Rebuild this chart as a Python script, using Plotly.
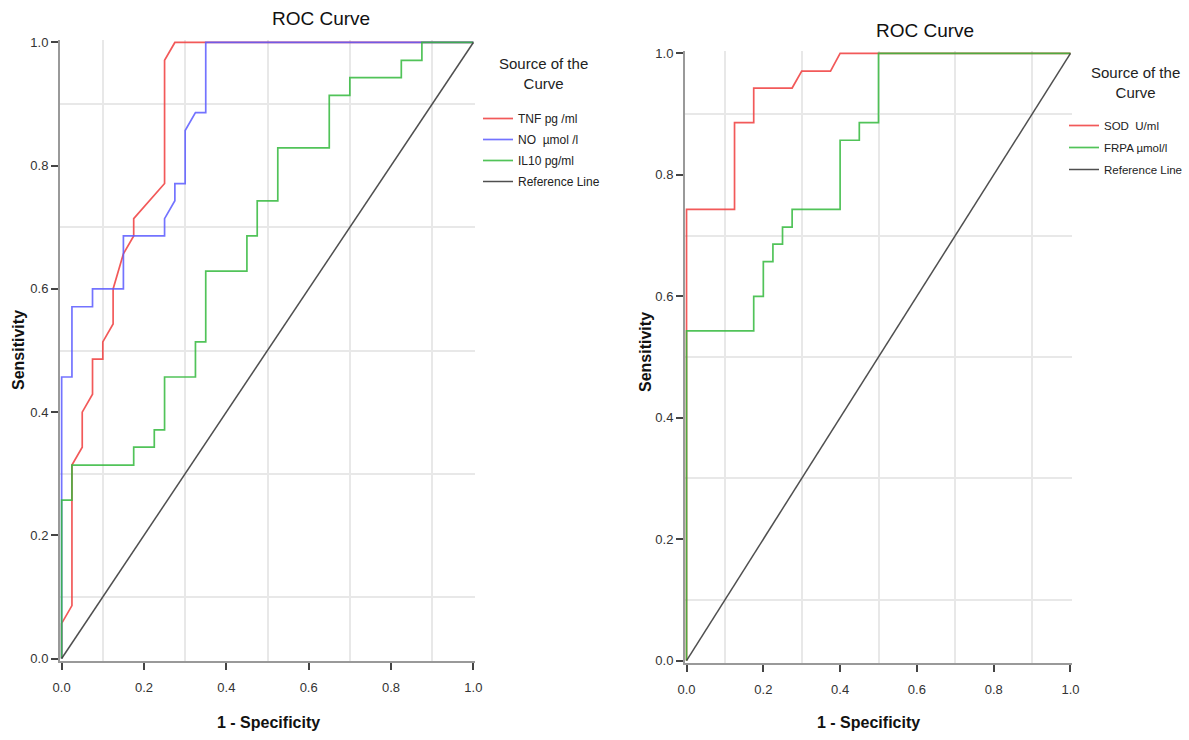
import plotly.graph_objects as go

# ---------------- Left chart data ----------------
tnf_fpr = [0, 0, 0.025, 0.025, 0.05, 0.05, 0.075, 0.075, 0.1, 0.1, 0.125, 0.125, 0.15, 0.175, 0.175, 0.25, 0.25, 0.275, 1.0]
tnf_tpr = [0, 0.057, 0.086, 0.314, 0.343, 0.4, 0.429, 0.486, 0.486, 0.514, 0.543, 0.6, 0.657, 0.686, 0.714, 0.771, 0.971, 1.0, 1.0]

no_fpr = [0, 0, 0.025, 0.025, 0.075, 0.075, 0.15, 0.15, 0.25, 0.25, 0.275, 0.275, 0.3, 0.3, 0.325, 0.35, 0.35, 1.0]
no_tpr = [0, 0.457, 0.457, 0.571, 0.571, 0.6, 0.6, 0.686, 0.686, 0.714, 0.743, 0.771, 0.771, 0.857, 0.886, 0.886, 1.0, 1.0]

il10_fpr = [0, 0, 0.025, 0.025, 0.175, 0.175, 0.225, 0.225, 0.25, 0.25, 0.325, 0.325, 0.35, 0.35,
            0.45, 0.45, 0.475, 0.475, 0.525, 0.525, 0.65, 0.65, 0.70, 0.70, 0.825, 0.825, 0.875, 0.875, 1.0]
il10_tpr = [0, 0.257, 0.257, 0.314, 0.314, 0.343, 0.343, 0.371, 0.371, 0.457, 0.457, 0.514, 0.514, 0.629,
            0.629, 0.686, 0.686, 0.743, 0.743, 0.829, 0.829, 0.914, 0.914, 0.943, 0.943, 0.971, 0.971, 1.0, 1.0]

# ---------------- Right chart data ----------------
sod_fpr = [0, 0, 0.125, 0.125, 0.175, 0.175, 0.275, 0.3, 0.375, 0.4, 1.0]
sod_tpr = [0, 0.743, 0.743, 0.886, 0.886, 0.943, 0.943, 0.971, 0.971, 1.0, 1.0]

frpa_fpr = [0, 0, 0.175, 0.175, 0.2, 0.2, 0.225, 0.225, 0.25, 0.25, 0.275, 0.275, 0.4, 0.4, 0.45, 0.45, 0.5, 0.5, 1.0]
frpa_tpr = [0, 0.543, 0.543, 0.6, 0.6, 0.657, 0.657, 0.686, 0.686, 0.714, 0.714, 0.743, 0.743, 0.857, 0.857, 0.886, 0.886, 1.0, 1.0]

ref_x = [0, 1]
ref_y = [0, 1]

tick_vals = [0, 0.2, 0.4, 0.6, 0.8, 1.0]
tick_text = ["0.0", "0.2", "0.4", "0.6", "0.8", "1.0"]
grid_vals = [0.1, 0.3, 0.5, 0.7, 0.9]

W, H = 1189, 740
NARROW = "Liberation Sans Narrow, Arial Narrow, Liberation Sans, Arial, sans-serif"
BOLD = "Liberation Sans, Arial, sans-serif"

RED = "rgba(240,60,60,0.85)"
BLUE = "rgba(90,90,255,0.85)"
GREEN = "rgba(50,185,60,0.85)"
GREY = "rgba(60,60,60,0.9)"


def fx(px):
    return px / W


def fy(py):
    return 1 - py / H


fig = go.Figure()

lw = 1.7
fig.add_trace(go.Scatter(x=tnf_fpr, y=tnf_tpr, mode="lines", name="TNF pg /ml", legendgroup="a",
                         line=dict(color=RED, width=lw), xaxis="x", yaxis="y", legend="legend"))
fig.add_trace(go.Scatter(x=no_fpr, y=no_tpr, mode="lines", name="NO  µmol /l", legendgroup="b",
                         line=dict(color=BLUE, width=lw), xaxis="x", yaxis="y", legend="legend"))
fig.add_trace(go.Scatter(x=il10_fpr, y=il10_tpr, mode="lines", name="IL10 pg/ml", legendgroup="c",
                         line=dict(color=GREEN, width=lw), xaxis="x", yaxis="y", legend="legend"))
fig.add_trace(go.Scatter(x=ref_x, y=ref_y, mode="lines", name="Reference Line", legendgroup="d",
                         line=dict(color=GREY, width=1.5), xaxis="x", yaxis="y", legend="legend"))

fig.add_trace(go.Scatter(x=sod_fpr, y=sod_tpr, mode="lines", name="SOD  U/ml", legendgroup="e",
                         line=dict(color=RED, width=lw), xaxis="x2", yaxis="y2", legend="legend2"))
fig.add_trace(go.Scatter(x=frpa_fpr, y=frpa_tpr, mode="lines", name="FRPA µmol/l", legendgroup="f",
                         line=dict(color=GREEN, width=lw), xaxis="x2", yaxis="y2", legend="legend2"))
fig.add_trace(go.Scatter(x=ref_x, y=ref_y, mode="lines", name="Reference Line", legendgroup="g",
                         line=dict(color=GREY, width=1.5), xaxis="x2", yaxis="y2", legend="legend2"))


def axis(domain, anchor, standoff):
    return dict(
        domain=domain, anchor=anchor, range=[-0.004, 1.004],
        tickmode="array", tickvals=tick_vals, ticktext=tick_text,
        ticks="outside", ticklen=7, tickwidth=1.5, tickcolor="#444",
        ticklabelstandoff=standoff,
        showline=True, linecolor="#999", linewidth=2,
        showgrid=False, zeroline=False, automargin=False,
        tickfont=dict(family=NARROW, size=13, color="#333"),
        minor=dict(tickmode="array", tickvals=grid_vals, showgrid=True,
                   gridcolor="#e8e8e8", gridwidth=1.5, ticks=""),
        fixedrange=True,
    )


fig.update_layout(
    width=W, height=H,
    margin=dict(l=0, r=0, t=0, b=0, autoexpand=False),
    paper_bgcolor="white", plot_bgcolor="white",
    xaxis=axis([fx(60), fx(475)], "y", 6),
    yaxis=axis([fy(661), fy(40)], "x", 0),
    xaxis2=axis([fx(685), fx(1072)], "y2", 6),
    yaxis2=axis([fy(663), fy(51)], "x2", 0),
    legend=dict(
        x=fx(478), y=fy(104), xanchor="left", yanchor="top",
        bgcolor="rgba(0,0,0,0)",
        font=dict(family=NARROW, size=12, color="#222"),
        itemwidth=30, tracegroupgap=2, traceorder="grouped",
    ),
    legend2=dict(
        x=fx(1064), y=fy(111), xanchor="left", yanchor="top",
        bgcolor="rgba(0,0,0,0)",
        font=dict(family=NARROW, size=11.5, color="#222"),
        itemwidth=30, tracegroupgap=3, traceorder="grouped",
    ),
    showlegend=True,
)

annos = [
    dict(text="ROC Curve", x=fx(321), y=fy(19), font=dict(family=NARROW, size=19, color="#111")),
    dict(text="ROC Curve", x=fx(925), y=fy(30), font=dict(family=NARROW, size=19, color="#111")),
    dict(text="Source of the<br>Curve", x=fx(543), y=fy(73), font=dict(family=NARROW, size=15, color="#222")),
    dict(text="Source of the<br>Curve", x=fx(1135), y=fy(83), font=dict(family=NARROW, size=15, color="#222")),
    dict(text="<b>1 - Specificity</b>", x=fx(268), y=fy(722), font=dict(family=BOLD, size=16, color="#111")),
    dict(text="<b>1 - Specificity</b>", x=fx(868), y=fy(722), font=dict(family=BOLD, size=16, color="#111")),
    dict(text="<b>Sensitivity</b>", x=fx(18), y=fy(350), textangle=-90, font=dict(family=BOLD, size=16, color="#111")),
    dict(text="<b>Sensitivity</b>", x=fx(645), y=fy(352), textangle=-90, font=dict(family=BOLD, size=16, color="#111")),
]
for a in annos:
    a.update(xref="paper", yref="paper", showarrow=False, xanchor="center", yanchor="middle", align="center")
fig.update_layout(annotations=annos)

fig.write_html("out.html", config={"displayModeBar": False},
               post_script="document.body.style.margin='0';document.body.style.overflow='hidden';")
